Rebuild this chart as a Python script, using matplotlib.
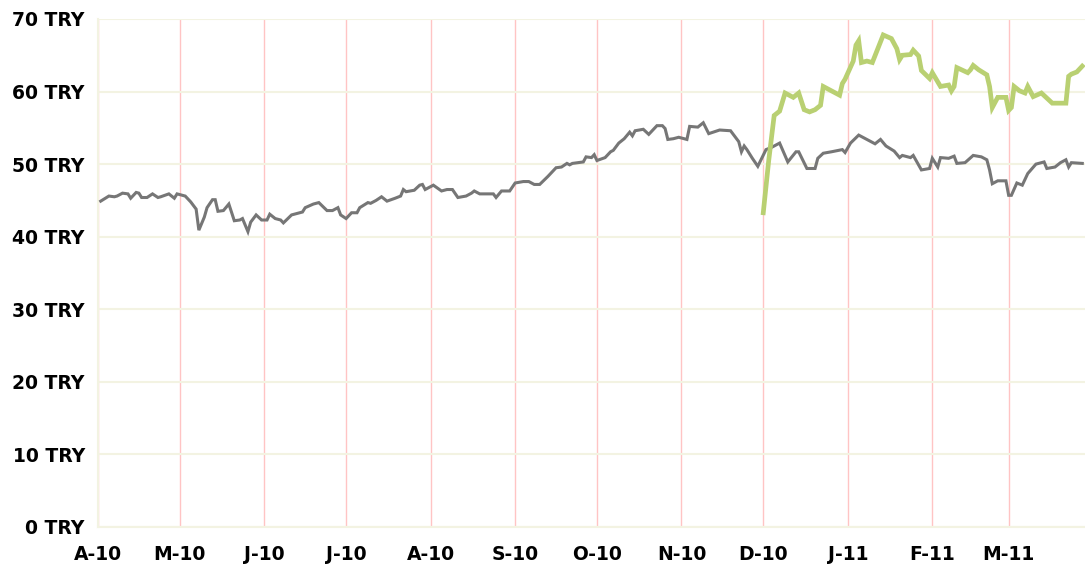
import matplotlib
matplotlib.use("Agg")
import matplotlib.pyplot as plt
import pandas as pd

# grey series (daily close, TRY)
grey_dates = [
    "2010-04-02", "2010-04-05", "2010-04-07", "2010-04-08", "2010-04-10", "2010-04-12",
    "2010-04-13", "2010-04-15", "2010-04-16", "2010-04-17", "2010-04-19", "2010-04-21",
    "2010-04-23", "2010-04-24", "2010-04-27", "2010-04-29", "2010-04-30", "2010-05-03",
    "2010-05-05", "2010-05-07", "2010-05-08", "2010-05-10", "2010-05-11", "2010-05-13",
    "2010-05-14", "2010-05-15", "2010-05-17", "2010-05-19", "2010-05-21", "2010-05-23",
    "2010-05-24", "2010-05-26", "2010-05-27", "2010-05-29", "2010-05-31", "2010-06-02",
    "2010-06-03", "2010-06-05", "2010-06-07", "2010-06-08", "2010-06-11", "2010-06-12",
    "2010-06-15", "2010-06-16", "2010-06-19", "2010-06-21", "2010-06-24", "2010-06-26",
    "2010-06-28", "2010-06-29", "2010-07-01", "2010-07-03", "2010-07-05", "2010-07-06",
    "2010-07-09", "2010-07-10", "2010-07-12", "2010-07-14", "2010-07-16", "2010-07-19",
    "2010-07-21", "2010-07-22", "2010-07-23", "2010-07-26", "2010-07-28", "2010-07-29",
    "2010-07-30", "2010-08-02", "2010-08-05", "2010-08-07", "2010-08-09", "2010-08-11",
    "2010-08-14", "2010-08-16", "2010-08-17", "2010-08-19", "2010-08-22", "2010-08-24",
    "2010-08-25", "2010-08-27", "2010-08-30", "2010-09-01", "2010-09-04", "2010-09-06",
    "2010-09-08", "2010-09-10", "2010-09-13", "2010-09-14", "2010-09-16", "2010-09-18",
    "2010-09-20", "2010-09-21", "2010-09-22", "2010-09-26", "2010-09-27", "2010-09-29",
    "2010-09-30", "2010-10-01", "2010-10-04", "2010-10-06", "2010-10-07", "2010-10-09",
    "2010-10-11", "2010-10-13", "2010-10-14", "2010-10-15", "2010-10-18", "2010-10-20",
    "2010-10-23", "2010-10-25", "2010-10-26", "2010-10-27", "2010-10-29", "2010-10-31",
    "2010-11-03", "2010-11-04", "2010-11-07", "2010-11-09", "2010-11-11", "2010-11-15",
    "2010-11-19", "2010-11-22", "2010-11-23", "2010-11-24", "2010-11-25", "2010-11-27",
    "2010-11-29", "2010-12-02", "2010-12-04", "2010-12-07", "2010-12-10", "2010-12-13",
    "2010-12-14", "2010-12-17", "2010-12-20", "2010-12-21", "2010-12-23", "2010-12-26",
    "2010-12-30", "2010-12-31", "2011-01-02", "2011-01-05", "2011-01-08", "2011-01-11",
    "2011-01-13", "2011-01-15", "2011-01-18", "2011-01-20", "2011-01-21", "2011-01-24",
    "2011-01-25", "2011-01-28", "2011-01-31", "2011-02-01", "2011-02-03", "2011-02-04",
    "2011-02-07", "2011-02-09", "2011-02-10", "2011-02-13", "2011-02-16", "2011-02-19",
    "2011-02-21", "2011-02-22", "2011-02-23", "2011-02-25", "2011-02-28", "2011-03-01",
    "2011-03-02", "2011-03-04", "2011-03-06", "2011-03-08", "2011-03-11", "2011-03-14",
    "2011-03-15", "2011-03-18", "2011-03-20", "2011-03-22", "2011-03-23", "2011-03-24",
    "2011-03-28",
]
grey_values = [
    44.9, 45.6, 45.5, 45.6, 46.0, 45.9,
    45.3, 46.1, 46.0, 45.4, 45.4, 45.9,
    45.4, 45.5, 45.9, 45.3, 45.9, 45.6,
    44.8, 43.8, 40.9, 42.7, 44.0, 45.1,
    45.1, 43.5, 43.6, 44.5, 42.2, 42.3,
    42.5, 40.7, 42.0, 43.0, 42.3, 42.3,
    43.1, 42.5, 42.3, 41.9, 43.0, 43.1,
    43.4, 44.0, 44.5, 44.7, 43.6, 43.6,
    44.0, 43.0, 42.5, 43.3, 43.3, 44.0,
    44.7, 44.6, 45.0, 45.5, 44.9, 45.3,
    45.6, 46.5, 46.2, 46.4, 47.1, 47.2,
    46.5, 47.1, 46.3, 46.5, 46.5, 45.4,
    45.6, 46.0, 46.3, 45.9, 45.9, 45.9,
    45.4, 46.3, 46.3, 47.4, 47.6, 47.6,
    47.2, 47.2, 48.3, 48.7, 49.5, 49.6,
    50.1, 49.9, 50.1, 50.3, 51.0, 50.9,
    51.3, 50.5, 50.9, 51.7, 51.9, 52.9,
    53.5, 54.4, 53.9, 54.6, 54.8, 54.1,
    55.3, 55.3, 54.9, 53.4, 53.5, 53.7,
    53.4, 55.2, 55.1, 55.7, 54.2, 54.7,
    54.6, 53.1, 51.7, 52.5, 52.0, 50.8,
    49.7, 52.0, 52.3, 52.9, 50.3, 51.7,
    51.7, 49.4, 49.4, 50.8, 51.5, 51.7,
    52.0, 51.6, 52.9, 54.0, 53.4, 52.8,
    53.4, 52.5, 51.8, 50.9, 51.2, 50.9,
    51.2, 49.2, 49.4, 50.8, 49.6, 50.9,
    50.8, 51.1, 50.1, 50.2, 51.2, 51.0,
    50.6, 49.2, 47.3, 47.7, 47.7, 45.7,
    45.7, 47.4, 47.1, 48.7, 50.0, 50.3,
    49.4, 49.6, 50.2, 50.6, 49.6, 50.2,
    50.1,
]

# green series, starts in December 2010
green_dates = [
    "2010-12-01", "2010-12-03", "2010-12-05", "2010-12-07", "2010-12-09", "2010-12-12",
    "2010-12-14", "2010-12-16", "2010-12-18", "2010-12-20", "2010-12-22", "2010-12-23",
    "2010-12-29", "2010-12-30", "2010-12-31", "2011-01-03", "2011-01-04", "2011-01-05",
    "2011-01-06", "2011-01-08", "2011-01-10", "2011-01-12", "2011-01-14", "2011-01-17",
    "2011-01-19", "2011-01-20", "2011-01-21", "2011-01-24", "2011-01-25", "2011-01-27",
    "2011-01-28", "2011-01-31", "2011-02-01", "2011-02-04", "2011-02-07", "2011-02-08",
    "2011-02-09", "2011-02-10", "2011-02-14", "2011-02-15", "2011-02-16", "2011-02-18",
    "2011-02-21", "2011-02-22", "2011-02-23", "2011-02-25", "2011-02-28", "2011-03-01",
    "2011-03-02", "2011-03-03", "2011-03-05", "2011-03-07", "2011-03-08", "2011-03-10",
    "2011-03-13", "2011-03-17", "2011-03-22", "2011-03-23", "2011-03-24", "2011-03-26",
    "2011-03-28",
]
green_values = [
    43.3, 50.5, 56.7, 57.3, 59.8, 59.2,
    59.8, 57.5, 57.2, 57.5, 58.1, 60.7,
    59.5, 61.1, 61.7, 64.2, 66.4, 67.0,
    64.0, 64.2, 64.0, 65.9, 67.8, 67.3,
    65.9, 64.4, 65.0, 65.1, 65.7, 64.9,
    62.9, 61.8, 62.6, 60.7, 60.9, 60.1,
    60.7, 63.3, 62.6, 63.0, 63.6, 63.0,
    62.3, 60.7, 57.8, 59.2, 59.2, 57.4,
    57.8, 60.7, 60.1, 59.8, 60.7, 59.3,
    59.8, 58.4, 58.4, 62.1, 62.4, 62.7,
    63.5,
]

month_labels = ["A-10", "M-10", "J-10", "J-10", "A-10", "S-10", "O-10", "N-10",
                "D-10", "J-11", "F-11", "M-11"]
y_ticks = [0, 10, 20, 30, 40, 50, 60, 70]

grey_x = pd.to_datetime(grey_dates)
green_x = pd.to_datetime(green_dates)
month_starts = pd.date_range("2010-04-01", periods=len(month_labels), freq="MS")

fig = plt.figure(figsize=(10.85, 5.65), dpi=100)
ax = fig.add_axes([0.0903, 0.0673, 0.9097, 0.8991])

ax.plot(grey_x, grey_values, color="#767676", lw=2.2, solid_joinstyle="miter", zorder=3)
ax.plot(green_x, green_values, color="#b9d072", lw=3.4, solid_joinstyle="miter", zorder=4)

ax.set_ylim(0, 70)
ax.set_yticks(y_ticks)
ax.set_yticklabels([f"{v} TRY" for v in y_ticks])
ax.set_xlim(pd.Timestamp("2010-04-01"), pd.Timestamp("2011-03-29"))
ax.set_xticks(month_starts)
ax.set_xticklabels(month_labels)

ax.set_axisbelow(True)
ax.yaxis.grid(True, color="#f3f3e2", lw=1.5)
ax.xaxis.grid(True, color="#ffc4c4", lw=1.0)

for side in ["top", "right"]:
    ax.spines[side].set_visible(False)
for side in ["left", "bottom"]:
    ax.spines[side].set_color("#f3f3e2")
    ax.spines[side].set_linewidth(1.5)

ax.tick_params(axis="both", length=0, labelsize=13.5, colors="black")
ax.tick_params(axis="y", pad=9.5)
ax.tick_params(axis="x", pad=13)
for lbl in ax.get_xticklabels() + ax.get_yticklabels():
    lbl.set_fontweight("bold")
    lbl.set_family("DejaVu Sans")

fig.savefig("out.png", dpi=100)
